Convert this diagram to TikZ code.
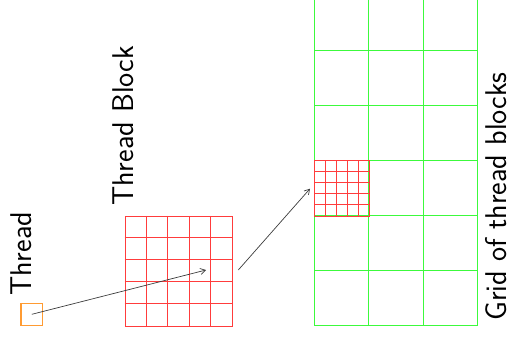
\documentclass[tikz,border=0pt]{standalone}
\usetikzlibrary{arrows.meta}
\definecolor{cred}{RGB}{255,60,60}
\definecolor{cgreen}{RGB}{60,250,60}
\definecolor{corange}{RGB}{255,155,50}
\definecolor{carrow}{RGB}{60,60,60}
\tikzset{
  lbl/.style={rotate=90,anchor=base west,inner sep=0pt,font=\sffamily\fontsize{30}{36}\selectfont},
  redline/.style={draw=cred,line width=1pt},
  greenline/.style={draw=cgreen,line width=1pt},
  conn/.style={draw=carrow,line width=0.7pt,-{Straight Barb[length=5pt,width=6pt]}},
}
\begin{document}
\begin{tikzpicture}[x=1pt,y=-1pt]
\useasboundingbox (0,0) rectangle (508,338);
% grid of thread blocks
\foreach \i in {0,...,3}
  \draw[greenline] ({314.3+\i*54.47},-4.7) -- ({314.3+\i*54.47},325.3);
\foreach \j in {0,...,6}
  \draw[greenline] (314.3,{-4.7+\j*55}) -- (477.7,{-4.7+\j*55});
% highlighted block inside grid
\node[redline,minimum width=55pt,minimum height=55.4pt,inner sep=0pt,anchor=north west] (gblock) at (314.3,160.3) {};
\foreach \i in {1,...,4}{
  \draw[redline] ({314.3+\i*11},160.3) -- ({314.3+\i*11},215.7);
  \draw[redline] (314.3,{160.3+\i*11.08}) -- (369.3,{160.3+\i*11.08});
}
% thread block
\node[redline,minimum width=107.8pt,minimum height=109.8pt,inner sep=0pt,anchor=north west] (block) at (124.6,215.8) {};
\foreach \i in {1,...,4}{
  \draw[redline] ({124.6+\i*21.56},215.8) -- ({124.6+\i*21.56},325.6);
  \draw[redline] (124.6,{215.8+\i*21.96}) -- (232.4,{215.8+\i*21.96});
}
% thread
\node[draw=corange,line width=1.1pt,minimum size=21.7pt,inner sep=0pt] (thread) at (31.8,314.3) {};
% labels
\node[lbl] (tlabel) at (31.7,296) {Thread};
\node[lbl] (blabel) at (133,206) {Thread Block};
\node[lbl] (glabel) at (506.8,321) {Grid of thread blocks};
% connectors
\coordinate (a1) at (206,270);
\coordinate (b0) at (238.3,270);
\coordinate (b1) at (310,188.7);
\draw[conn] (thread.center) -- (a1);
\draw[conn] (b0) -- (b1);
\end{tikzpicture}
\end{document}
